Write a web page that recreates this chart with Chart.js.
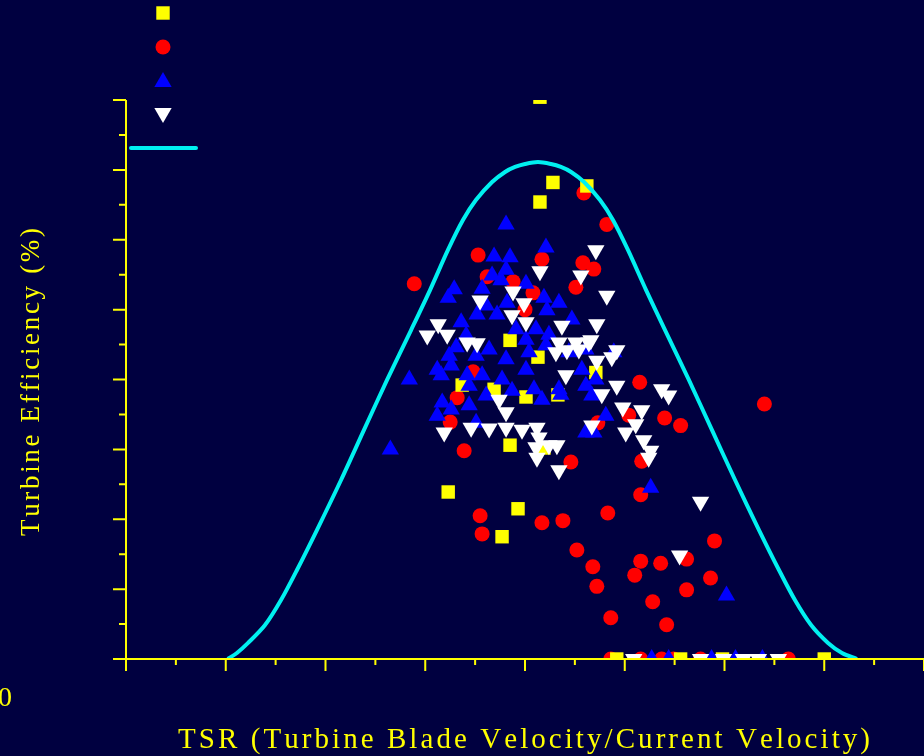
<!DOCTYPE html>
<html>
<head>
<meta charset="utf-8">
<script src="https://cdn.jsdelivr.net/npm/chart.js@4.4.1/dist/chart.umd.min.js"></script>
<style>
  html, body { margin: 0; padding: 0; background: #000040; }
  canvas { display: block; }
</style>
</head>
<body>
<canvas id="tsr" width="924" height="756"></canvas>
<script>
const YELLOW = '#ffff00';
const CYAN = '#00f0f0';

// axis ticks (TSR, efficiency %)
const xTicks = [0, 0.25, 0.5, 0.75, 1, 1.25, 1.5, 1.75, 2, 2.25, 2.5, 2.75, 3, 3.25, 3.5, 3.75, 4];
const yTicks = [0, 2.5, 5, 7.5, 10, 12.5, 15, 17.5, 20, 22.5, 25, 27.5, 30, 32.5, 35, 37.5, 40];

const xTitle = 'TSR (Turbine Blade Velocity/Current Velocity)';
const yTitle = 'Turbine Efficiency (%)';

// measured points [TSR, efficiency]
const squares = [
  [2.075, 40.2], [2.14, 34.1], [2.075, 32.7], [2.31, 33.85], [1.925, 22.8], [2.065, 21.6],
  [2.355, 20.5], [1.685, 19.6], [1.845, 19.3], [2.005, 18.75], [2.165, 18.9], [1.925, 15.3],
  [2.095, 15.1], [1.615, 11.95], [1.965, 10.75], [1.885, 8.75],
  [2.46, 0], [2.78, 0], [2.99, 0], [3.5, 0]
];

const circles = [
  [1.445, 26.85], [1.765, 28.9], [2.085, 28.6], [2.295, 33.35], [2.41, 31.1], [2.29, 28.35],
  [2.345, 27.9], [2.255, 26.6], [1.81, 27.35], [1.94, 27.0], [2.04, 26.2], [2.0, 25.0],
  [1.74, 20.55], [1.66, 18.7], [1.625, 16.95], [1.695, 14.9], [2.23, 14.1], [2.575, 19.8],
  [2.7, 17.25], [2.78, 16.7], [3.2, 18.25], [2.52, 17.45], [2.365, 16.9], [2.585, 14.15],
  [2.58, 11.75], [2.415, 10.45], [1.775, 10.25], [1.785, 8.95], [2.085, 9.75], [2.19, 9.9],
  [2.26, 7.8], [2.34, 6.6], [2.95, 8.45], [2.58, 7.0], [2.68, 6.85], [2.81, 7.15],
  [2.55, 6.0], [2.93, 5.8], [2.36, 5.2], [2.81, 4.95], [2.64, 4.1], [2.43, 2.95], [2.71, 2.45],
  [2.43, 0], [2.58, 0], [2.685, 0], [2.745, 0], [2.88, 0], [3.32, 0]
];

const triangles = [
  [1.905, 31.1], [2.105, 29.45], [1.845, 28.8], [1.925, 28.75], [1.905, 27.85], [1.835, 27.45],
  [1.645, 26.45], [1.615, 25.85], [1.785, 26.5], [1.88, 27.1], [2.005, 26.85], [2.095, 25.85],
  [2.17, 25.5], [1.91, 25.5], [1.805, 25.3], [1.76, 24.65], [1.86, 24.65], [2.11, 24.95],
  [2.235, 24.3], [1.68, 24.1], [1.955, 23.6], [2.055, 23.6], [2.12, 23.2], [1.705, 23.15],
  [1.655, 22.3], [1.82, 22.15], [2.005, 22.85], [2.105, 22.45], [1.62, 21.7], [1.755, 21.7],
  [1.905, 21.45], [2.02, 21.95], [2.22, 21.95], [2.305, 22.15], [2.445, 21.95], [1.56, 20.7],
  [1.63, 21.0], [1.785, 20.3], [2.005, 20.7], [1.42, 20.0], [1.58, 20.3], [1.71, 20.3],
  [1.885, 20.0], [2.285, 20.7], [1.935, 19.2], [2.045, 19.3], [2.17, 19.3], [2.305, 19.55],
  [2.355, 20.0], [1.72, 19.55], [1.805, 18.85], [2.085, 18.55], [2.18, 18.9], [1.585, 18.35],
  [1.63, 17.85], [1.56, 17.4], [1.72, 18.15], [1.755, 16.9], [2.335, 18.85], [2.405, 17.4],
  [2.345, 16.2], [2.305, 16.2], [1.325, 15.0], [2.63, 12.25], [3.01, 4.55],
  [2.635, 0], [2.72, 0], [2.935, 0], [3.055, 0], [3.19, 0]
];

const downTriangles = [
  [2.355, 29.25], [2.075, 27.75], [2.28, 27.45], [2.41, 26.0], [1.94, 26.3], [1.775, 25.65],
  [1.995, 25.45], [1.935, 24.6], [2.005, 24.1], [2.185, 23.85], [2.36, 23.95], [1.565, 23.95],
  [1.51, 23.15], [1.61, 23.2], [1.71, 22.65], [1.76, 22.6], [2.17, 22.65], [2.255, 22.65],
  [2.32, 22.65], [2.155, 21.95], [2.21, 22.1], [2.27, 22.15], [2.46, 22.1], [2.435, 21.6],
  [2.36, 21.35], [2.33, 22.8], [2.205, 20.3], [2.46, 19.55], [2.385, 18.95], [2.685, 19.3],
  [2.72, 18.85], [1.87, 18.55], [1.905, 17.65], [1.595, 16.2], [1.73, 16.55], [1.82, 16.5],
  [1.905, 16.55], [1.985, 16.4], [2.06, 16.55], [2.07, 15.85], [2.055, 15.15], [2.12, 15.3],
  [2.16, 15.3], [2.06, 14.4], [2.17, 13.5], [2.335, 16.7], [2.505, 16.2], [2.585, 17.8],
  [2.555, 16.8], [2.49, 18.0], [2.595, 15.65], [2.63, 14.9], [2.62, 14.4], [2.88, 11.25],
  [2.775, 7.4],
  [2.545, 0], [2.88, 0], [2.995, 0], [3.095, 0], [3.17, 0], [3.27, 0]
];

// fitted efficiency envelope
const envelope = [
  [0.51, 0], [0.556, 0.43], [0.612, 1.15], [0.697, 2.43], [0.777, 4.22], [0.857, 6.37],
  [0.957, 9.23], [1.078, 12.81], [1.193, 16.39], [1.308, 19.96], [1.429, 23.54], [1.524, 26.4],
  [1.614, 29.27], [1.689, 31.41], [1.754, 32.84], [1.835, 34.13], [1.9, 34.85], [1.95, 35.21],
  [2.0, 35.42], [2.065, 35.56], [2.13, 35.42], [2.18, 35.21], [2.231, 34.85], [2.296, 34.13],
  [2.376, 32.84], [2.441, 31.41], [2.516, 29.27], [2.607, 26.4], [2.702, 23.54], [2.822, 19.96],
  [2.937, 16.39], [3.053, 12.81], [3.173, 9.23], [3.273, 6.37], [3.353, 4.22], [3.434, 2.43],
  [3.519, 1.15], [3.589, 0.43], [3.664, 0]
];

const toXY = pts => pts.map(([x, y]) => ({ x, y }));

function markerSet(pts, color, style, radius, rotation, order) {
  return {
    data: toXY(pts),
    pointStyle: style,
    pointRadius: radius,
    pointRotation: rotation,
    pointBackgroundColor: color,
    pointBorderColor: color,
    pointBorderWidth: 0,
    clip: 0,
    order
  };
}

const series = [
  { type: 'line', data: toXY(envelope), borderColor: CYAN, borderWidth: 4, pointRadius: 0,
    tension: 0.3, fill: false, clip: 0, order: 0 },
  markerSet(downTriangles, '#ffffff', 'triangle', 10, 180, 1),
  markerSet(triangles, '#0000ff', 'triangle', 10, 0, 2),
  markerSet(squares, YELLOW, 'rect', 9.5, 0, 3),
  markerSet(circles, '#ff0000', 'circle', 7.5, 0, 4)
];

// text with extra tracking so it spans a given width
function spacedText(ctx, text, cx, baseline, width) {
  const chars = [...text];
  const natural = chars.reduce((s, c) => s + ctx.measureText(c).width, 0);
  const gap = (width - natural) / (chars.length - 1);
  let pos = cx - width / 2;
  ctx.textAlign = 'left';
  for (const c of chars) {
    ctx.fillText(c, pos, baseline);
    pos += ctx.measureText(c).width + gap;
  }
}

const axesPlugin = {
  id: 'axes',
  afterDatasetsDraw(chart) {
    const { ctx, scales: { x, y } } = chart;
    const x0 = x.getPixelForValue(0);
    const y0 = y.getPixelForValue(0);
    ctx.save();
    ctx.strokeStyle = YELLOW;
    ctx.lineWidth = 2;
    ctx.beginPath();
    ctx.moveTo(x0, y.getPixelForValue(40));
    ctx.lineTo(x0, y0);
    ctx.moveTo(x0 - 13, y0);
    ctx.lineTo(chart.width, y0);
    yTicks.forEach(v => {
      const p = y.getPixelForValue(v);
      const len = v % 5 === 0 ? 13 : 7;
      ctx.moveTo(x0 - len, p);
      ctx.lineTo(x0, p);
    });
    xTicks.forEach(v => {
      const p = x.getPixelForValue(v);
      const len = v % 0.5 === 0 ? 12 : 6;
      ctx.moveTo(p, y0);
      ctx.lineTo(p, y0 + len);
    });
    ctx.stroke();
    ctx.restore();
  },
  afterDraw(chart) {
    const { ctx } = chart;
    ctx.save();
    ctx.fillStyle = YELLOW;
    ctx.textBaseline = 'alphabetic';

    ctx.font = '28px "Liberation Serif"';
    ctx.textAlign = 'left';
    ctx.fillText('0', -2, 706);

    ctx.font = '29px "Liberation Serif"';
    spacedText(ctx, xTitle, 524, 748, 692);

    ctx.font = '27px "Liberation Serif"';
    ctx.translate(39, 382);
    ctx.rotate(-Math.PI / 2);
    spacedText(ctx, yTitle, 0, 0, 308);
    ctx.restore();

    // key symbols
    const key = [
      { ds: 3, y: 13 }, { ds: 4, y: 47 }, { ds: 2, y: 82 }, { ds: 1, y: 113 }
    ];
    ctx.save();
    key.forEach(k => {
      const d = chart.data.datasets[k.ds];
      ctx.fillStyle = d.pointBackgroundColor;
      ctx.strokeStyle = d.pointBorderColor;
      Chart.helpers.drawPoint(ctx, {
        pointStyle: d.pointStyle, radius: d.pointRadius, rotation: d.pointRotation, borderWidth: 0
      }, 163, k.y);
    });
    ctx.strokeStyle = CYAN;
    ctx.lineWidth = 4;
    ctx.lineCap = 'round';
    ctx.beginPath();
    ctx.moveTo(131, 148);
    ctx.lineTo(196, 148);
    ctx.stroke();
    ctx.restore();
  }
};

new Chart(document.getElementById('tsr'), {
  type: 'scatter',
  data: { datasets: series },
  options: {
    responsive: false,
    devicePixelRatio: 1,
    animation: false,
    events: [],
    layout: { autoPadding: false, padding: { left: 126, top: 100, right: 0, bottom: 97 } },
    scales: {
      x: { type: 'linear', min: 0, max: 4, display: false },
      y: { type: 'linear', min: 0, max: 40, display: false }
    },
    plugins: { legend: { display: false }, tooltip: { enabled: false } }
  },
  plugins: [axesPlugin]
});
</script>
</body>
</html>
